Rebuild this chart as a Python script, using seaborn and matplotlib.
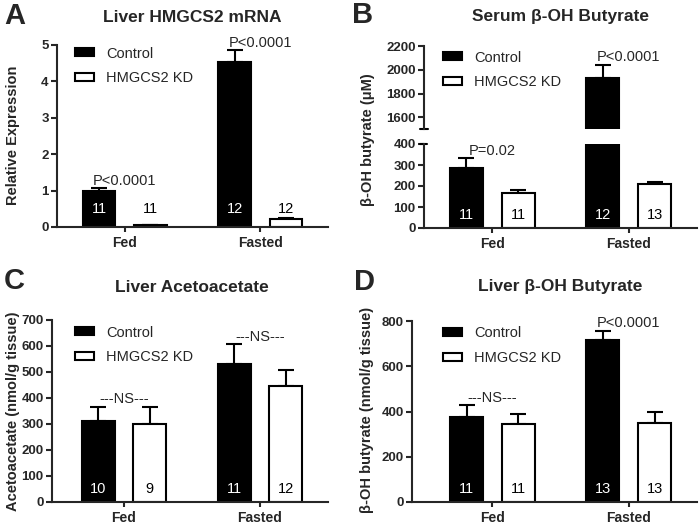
import numpy as np
import pandas as pd
import matplotlib
matplotlib.use("Agg")
import matplotlib.pyplot as plt
import matplotlib.transforms as mtransforms
from matplotlib.container import BarContainer
import seaborn as sns

conditions = ["Fed", "Fasted"]
groups = ["Control", "HMGCS2 KD"]

# A - liver HMGCS2 mRNA
mrna_ctrl = [1.0, 4.54]
mrna_ctrl_sem = [0.06, 0.32]
mrna_kd = [0.045, 0.21]
mrna_kd_sem = [0.015, 0.05]
mrna_n_ctrl = [11, 12]
mrna_n_kd = [11, 12]
mrna_p = ["P<0.0001", "P<0.0001"]

# B - serum beta-OH butyrate (uM)
serum_ctrl = [284, 1931]
serum_ctrl_sem = [48, 111]
serum_kd = [167, 209]
serum_kd_sem = [13, 8]
serum_n_ctrl = [11, 12]
serum_n_kd = [11, 13]
serum_p = ["P=0.02", "P<0.0001"]

# C - liver acetoacetate (nmol/g tissue)
acac_ctrl = [312, 529]
acac_ctrl_sem = [54, 77]
acac_kd = [299, 446]
acac_kd_sem = [67, 61]
acac_n_ctrl = [10, 11]
acac_n_kd = [9, 12]
acac_p = ["---NS---", "---NS---"]

# D - liver beta-OH butyrate (nmol/g tissue)
bohb_ctrl = [376, 718]
bohb_ctrl_sem = [51, 38]
bohb_kd = [346, 349]
bohb_kd_sem = [45, 49]
bohb_n_ctrl = [11, 13]
bohb_n_kd = [11, 13]
bohb_p = ["---NS---", "P<0.0001"]

palette = {"Control": "black", "HMGCS2 KD": "white"}

sns.set_style("ticks")
plt.rcParams["font.family"] = ["Liberation Sans", "DejaVu Sans"]

W, H = 700, 525
fig = plt.figure(figsize=(7, 5.25), dpi=100)


def px_axes(left, top, right, bottom):
    return fig.add_axes([left / W, 1 - bottom / H, (right - left) / W, (bottom - top) / H])


def bars_of(ax):
    return [c for c in ax.containers if isinstance(c, BarContainer)]


def bar_centers(ax):
    return [[b.get_x() + b.get_width() / 2 for b in cont] for cont in bars_of(ax)]


def style_axes(ax, xleft, ylim, yticks):
    ax.set_xlim(xleft, 1.5)
    ax.set_ylim(*ylim)
    ax.set_yticks(yticks)
    ax.set_xlabel("")
    ax.set_ylabel("")
    for s in ["top", "right"]:
        ax.spines[s].set_visible(False)
    for s in ["left", "bottom"]:
        ax.spines[s].set_linewidth(1.5)
    ax.tick_params(direction="out", length=4, width=1.5, labelsize=9.5, pad=2)
    ax.tick_params(axis="x", length=3.5, labelsize=10, pad=3)
    for lbl in ax.get_yticklabels() + ax.get_xticklabels():
        lbl.set_fontweight("bold")


def draw_bars(ax, ctrl, kd, ctrl_sem, kd_sem):
    df = pd.DataFrame({
        "condition": conditions * 2,
        "group": [groups[0]] * 2 + [groups[1]] * 2,
        "value": ctrl + kd,
    })
    sns.barplot(data=df, x="condition", y="value", hue="group", order=conditions,
                hue_order=groups, palette=palette, edgecolor="black", linewidth=1.5,
                width=0.76, gap=0.36, errorbar=None, saturation=1, legend=False, ax=ax)
    for xs, vals, sems in zip(bar_centers(ax), [ctrl, kd], [ctrl_sem, kd_sem]):
        ax.errorbar(xs, vals, yerr=[np.zeros(len(sems)), sems], fmt="none",
                    ecolor="black", elinewidth=1.5, capsize=6, capthick=1.5, zorder=0.5)


def add_counts(ax, n_ctrl, n_kd, frac):
    trans = mtransforms.blended_transform_factory(ax.transData, ax.transAxes)
    for xs, ns, col in zip(bar_centers(ax), [n_ctrl, n_kd], ["white", "black"]):
        for x, n in zip(xs, ns):
            ax.text(x, frac, str(n), transform=trans, ha="center", va="center",
                    fontsize=10.5, color=col)


def add_ptext(ax, i, text, top):
    xs = bar_centers(ax)
    xc = (xs[0][i] + xs[1][i]) / 2
    ax.annotate(text, (xc, top), xytext=(0, 2.5), textcoords="offset points",
                ha="center", va="baseline", fontsize=10.5, annotation_clip=False)


def add_legend(ax, x_px, y_px):
    handles = bars_of(ax)
    ax.legend(handles, groups, loc="center left",
              bbox_to_anchor=(x_px / W, 1 - y_px / H), bbox_transform=fig.transFigure,
              frameon=False, borderpad=0, borderaxespad=0, handlelength=1.3,
              handleheight=0.45, handletextpad=0.85, labelspacing=0.75,
              prop={"size": 10.5})


# Panel A
axA = px_axes(57, 45, 328, 227)
draw_bars(axA, mrna_ctrl, mrna_kd, mrna_ctrl_sem, mrna_kd_sem)
style_axes(axA, -0.5, (0, 5), range(0, 6))
add_counts(axA, mrna_n_ctrl, mrna_n_kd, 0.097)
for i in range(2):
    add_ptext(axA, i, mrna_p[i], max(mrna_ctrl[i] + mrna_ctrl_sem[i], mrna_kd[i] + mrna_kd_sem[i]))
add_legend(axA, 75, 66)

# Panel B (broken axis)
axBu = px_axes(424, 46, 697, 129.3)
axBl = px_axes(424, 144, 697, 228)
for ax in (axBu, axBl):
    draw_bars(ax, serum_ctrl, serum_kd, serum_ctrl_sem, serum_kd_sem)
style_axes(axBu, -0.5, (1500, 2200), [1600, 1800, 2000, 2200])
style_axes(axBl, -0.5, (0, 400), [0, 100, 200, 300, 400])
axBu.spines["bottom"].set_visible(False)
axBu.tick_params(axis="x", bottom=False, labelbottom=False)
axBu.plot([-0.015, 0.015], [0, 0], transform=axBu.transAxes, color="black", lw=1.5, clip_on=False)
axBl.plot([-0.015, 0.012], [1, 1], transform=axBl.transAxes, color="black", lw=1.5, clip_on=False)
add_counts(axBl, serum_n_ctrl, serum_n_kd, 0.151)
add_ptext(axBl, 0, serum_p[0], serum_ctrl[0] + serum_ctrl_sem[0])
add_ptext(axBu, 1, serum_p[1], serum_ctrl[1] + serum_ctrl_sem[1])
add_legend(axBu, 443, 70)

# Panel C
axC = px_axes(52, 320, 328, 502)
draw_bars(axC, acac_ctrl, acac_kd, acac_ctrl_sem, acac_kd_sem)
style_axes(axC, -0.53, (0, 700), range(0, 701, 100))
add_counts(axC, acac_n_ctrl, acac_n_kd, 0.071)
for i in range(2):
    add_ptext(axC, i, acac_p[i], max(acac_ctrl[i] + acac_ctrl_sem[i], acac_kd[i] + acac_kd_sem[i]))
add_legend(axC, 75, 345)

# Panel D
axD = px_axes(412, 321, 697, 502)
draw_bars(axD, bohb_ctrl, bohb_kd, bohb_ctrl_sem, bohb_kd_sem)
style_axes(axD, -0.59, (0, 800), range(0, 801, 200))
add_counts(axD, bohb_n_ctrl, bohb_n_kd, 0.072)
for i in range(2):
    add_ptext(axD, i, bohb_p[i], max(bohb_ctrl[i] + bohb_ctrl_sem[i], bohb_kd[i] + bohb_kd_sem[i]))
add_legend(axD, 443, 345.5)


# titles, letters, y labels
def ftext(x, y, s, **kw):
    fig.text(x / W, 1 - y / H, s, ha="center", va="center", **kw)


ftext(192, 17, "Liver HMGCS2 mRNA", fontsize=12.5, fontweight="bold")
ftext(560, 17, "Serum β-OH Butyrate", fontsize=12.5, fontweight="bold")
ftext(192, 287, "Liver Acetoacetate", fontsize=12.5, fontweight="bold")
ftext(560, 287, "Liver β-OH Butyrate", fontsize=12.5, fontweight="bold")

ftext(15, 16, "A", fontsize=21, fontweight="bold")
ftext(363, 15, "B", fontsize=21, fontweight="bold")
ftext(14, 281, "C", fontsize=21, fontweight="bold")
ftext(365, 282, "D", fontsize=21, fontweight="bold")

ftext(13, 135, "Relative Expression", rotation=90, fontsize=10.5, fontweight="bold")
ftext(368, 140, "β-OH butyrate (μM)", rotation=90, fontsize=10.5, fontweight="bold")
ftext(13, 411, "Acetoacetate (nmol/g tissue)", rotation=90, fontsize=10.5, fontweight="bold")
ftext(367, 410, "β-OH butyrate (nmol/g tissue)", rotation=90, fontsize=10.5, fontweight="bold")

fig.savefig("out.png", dpi=100)
